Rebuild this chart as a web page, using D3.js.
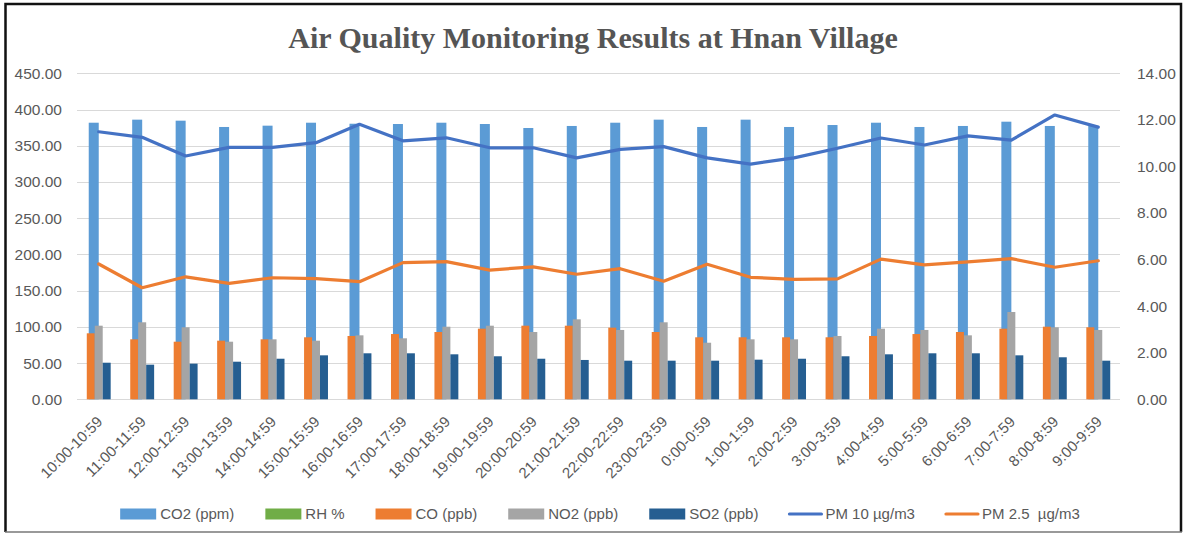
<!DOCTYPE html>
<html>
<head>
<meta charset="utf-8">
<script src="https://cdn.jsdelivr.net/npm/d3@7"></script>
<style>
  body { margin: 0; background: #fff; }
  text { font-family: "Liberation Sans", Arial, sans-serif; fill: #595959; }
</style>
</head>
<body>
<svg width="1184" height="535"></svg>
<script>
// hourly time windows
var hours = ["10:00-10:59","11:00-11:59","12:00-12:59","13:00-13:59","14:00-14:59","15:00-15:59",
  "16:00-16:59","17:00-17:59","18:00-18:59","19:00-19:59","20:00-20:59","21:00-21:59",
  "22:00-22:59","23:00-23:59","0:00-0:59","1:00-1:59","2:00-2:59","3:00-3:59",
  "4:00-4:59","5:00-5:59","6:00-6:59","7:00-7:59","8:00-8:59","9:00-9:59"];

// left axis series
var co2 = [381.8,386.0,384.6,375.9,377.7,381.8,380.4,380.0,381.8,380.0,374.5,377.3,
  381.8,386.0,375.9,386.0,375.9,378.6,381.8,375.9,377.3,383.2,377.3,377.3];
var rh = [0,0,0,0,0,0,0,0,0,0,0,0,0,0,0,0,0,0,0,0,0,0,0,0];
var co = [91.1,82.8,79.5,80.9,82.8,85.6,87.4,90.1,92.9,97.5,101.6,101.6,
  98.9,92.9,85.6,85.6,85.6,85.6,87.4,90.1,92.9,97.5,100.2,99.4];
var no2 = [101.6,106.3,99.4,79.5,82.8,80.9,88.3,84.2,100.2,101.6,92.9,110.4,
  95.7,106.3,78.1,82.8,82.8,87.4,97.5,95.7,88.3,120.5,99.4,95.7];
var so2 = [50.5,47.8,49.2,51.9,56.0,60.7,63.5,63.5,62.1,59.4,56.0,54.3,
  53.3,53.3,53.3,54.7,56.0,59.4,62.1,63.5,63.5,60.7,58.0,53.3];

// right axis series
var pm10 = [11.49,11.25,10.45,10.82,10.82,11.02,11.81,11.10,11.23,10.80,10.80,10.37,
  10.73,10.85,10.37,10.10,10.37,10.78,11.22,10.92,11.31,11.13,12.21,11.69];
var pm25 = [5.81,4.79,5.26,4.98,5.22,5.18,5.05,5.87,5.91,5.55,5.69,5.37,
  5.61,5.07,5.80,5.24,5.15,5.17,6.02,5.77,5.90,6.04,5.67,5.95];

var leftTicks = [0,50,100,150,200,250,300,350,400,450];
var rightTicks = [0,2,4,6,8,10,12,14];

var svg = d3.select("svg");

var x = d3.scaleBand().domain(hours).range([77, 1120]);
var yL = d3.scaleLinear().domain([0, 450]).range([399.3, 73.3]);
var yR = d3.scaleLinear().domain([0, 14]).range([399.3, 73.3]);
var bw = x.bandwidth();
var mid = function(i) { return x(hours[i]) + bw / 2; };

// two overlapping bar groups, like the spreadsheet did it
var bigGroup = d3.scaleBand().domain(["co2","rh"]).range([-bw*0.23, bw*0.23]);
var smallGroup = d3.scaleBand().domain(["co","no2","so2"]).range([-bw*0.275, bw*0.275]);

// frame
svg.append("path").attr("d","M5.5,532 V4 H1181 V532")
  .attr("fill","none").attr("stroke","#111").attr("stroke-width",2.5);
svg.append("line").attr("x1",5).attr("x2",1182).attr("y1",532).attr("y2",532)
  .attr("stroke","#777").attr("stroke-width",1.5);

// title
svg.append("text").attr("x", 593).attr("y", 48).attr("text-anchor","middle")
  .style("font-family","'Liberation Serif','Times New Roman',serif")
  .style("font-weight","bold").style("font-size","30px").style("fill","#555")
  .text("Air Quality Monitoring Results at Hnan Village");

// gridlines
svg.append("g").selectAll("line").data(leftTicks).enter().append("line")
  .attr("x1", 77).attr("x2", 1120)
  .attr("y1", function(d) { return Math.round(yL(d)) + 0.5; })
  .attr("y2", function(d) { return Math.round(yL(d)) + 0.5; })
  .attr("stroke", "#d9d9d9").attr("stroke-width", 1);

// axes (labels only)
var axL = svg.append("g").attr("transform","translate(62,0)")
  .call(d3.axisLeft(yL).tickValues(leftTicks).tickFormat(d3.format(".2f")).tickSize(0).tickPadding(0));
var axR = svg.append("g").attr("transform","translate(1137,0)")
  .call(d3.axisRight(yR).tickValues(rightTicks).tickFormat(d3.format(".2f")).tickSize(0).tickPadding(0));
[axL, axR].forEach(function(a) {
  a.select(".domain").remove();
  a.selectAll("text").style("font-size","15.5px").attr("fill","#595959")
    .style("font-family","'Liberation Sans',Arial,sans-serif");
});

// bars
var idx = d3.range(hours.length);
var barSets = [
  {key:"co2", vals:co2, color:"#5b9bd5", grp:bigGroup},
  {key:"rh", vals:rh, color:"#70ad47", grp:bigGroup},
  {key:"co", vals:co, color:"#ed7d31", grp:smallGroup},
  {key:"no2", vals:no2, color:"#a5a5a5", grp:smallGroup},
  {key:"so2", vals:so2, color:"#255e91", grp:smallGroup}
];
barSets.forEach(function(s) {
  svg.append("g").selectAll("rect").data(idx).enter().append("rect")
    .attr("x", function(i) { return mid(i) + s.grp(s.key); })
    .attr("width", s.grp.bandwidth())
    .attr("y", function(i) { return yL(s.vals[i]); })
    .attr("height", function(i) { return yL(0) - yL(s.vals[i]); })
    .attr("fill", s.color);
});

// lines on the secondary axis
var lineSets = [
  {vals:pm10, color:"#4472c4"},
  {vals:pm25, color:"#ed7d31"}
];
lineSets.forEach(function(s) {
  var line = d3.line().x(function(i) { return mid(i); }).y(function(i) { return yR(s.vals[i]); });
  svg.append("path").datum(idx).attr("d", line)
    .attr("fill","none").attr("stroke", s.color).attr("stroke-width",3.2)
    .attr("stroke-linejoin","round").attr("stroke-linecap","round");
});

// category labels
svg.append("g").selectAll("text").data(idx).enter().append("text")
  .attr("transform", function(i) { return "translate(" + (mid(i) + 1) + ",419) rotate(-45)"; })
  .attr("text-anchor","end").attr("dy","0.35em")
  .style("font-size","15px")
  .text(function(i) { return hours[i]; });

// legend
var legendItems = [
  {name:"CO2 (ppm)", color:"#5b9bd5", kind:"rect"},
  {name:"RH %", color:"#70ad47", kind:"rect"},
  {name:"CO (ppb)", color:"#ed7d31", kind:"rect"},
  {name:"NO2 (ppb)", color:"#a5a5a5", kind:"rect"},
  {name:"SO2 (ppb)", color:"#255e91", kind:"rect"},
  {name:"PM 10 \u00b5g/m3", color:"#4472c4", kind:"line"},
  {name:"PM 2.5  \u00b5g/m3", color:"#ed7d31", kind:"line"}
];
var gap = 31;
var lg = svg.append("g");
var cx = 0, ly = 514;
legendItems.forEach(function(d) {
  var g = lg.append("g").attr("transform","translate(" + cx + ",0)");
  var sw = d.kind === "rect" ? 36 : 32;
  if (d.kind === "rect") {
    g.append("rect").attr("x",0).attr("y",ly-5.5).attr("width",sw).attr("height",11).attr("fill",d.color);
  } else {
    g.append("line").attr("x1",0).attr("x2",sw).attr("y1",ly).attr("y2",ly)
      .attr("stroke",d.color).attr("stroke-width",3.2).attr("stroke-linecap","round");
  }
  var t = g.append("text").attr("x", sw + 4).attr("y", ly).attr("dy","0.35em")
    .style("font-size","15px").style("white-space","pre").text(d.name);
  cx += sw + 4 + t.node().getComputedTextLength() + gap;
});
var total = cx - gap;
lg.attr("transform","translate(" + (600 - total / 2) + ",0)");
</script>
</body>
</html>
